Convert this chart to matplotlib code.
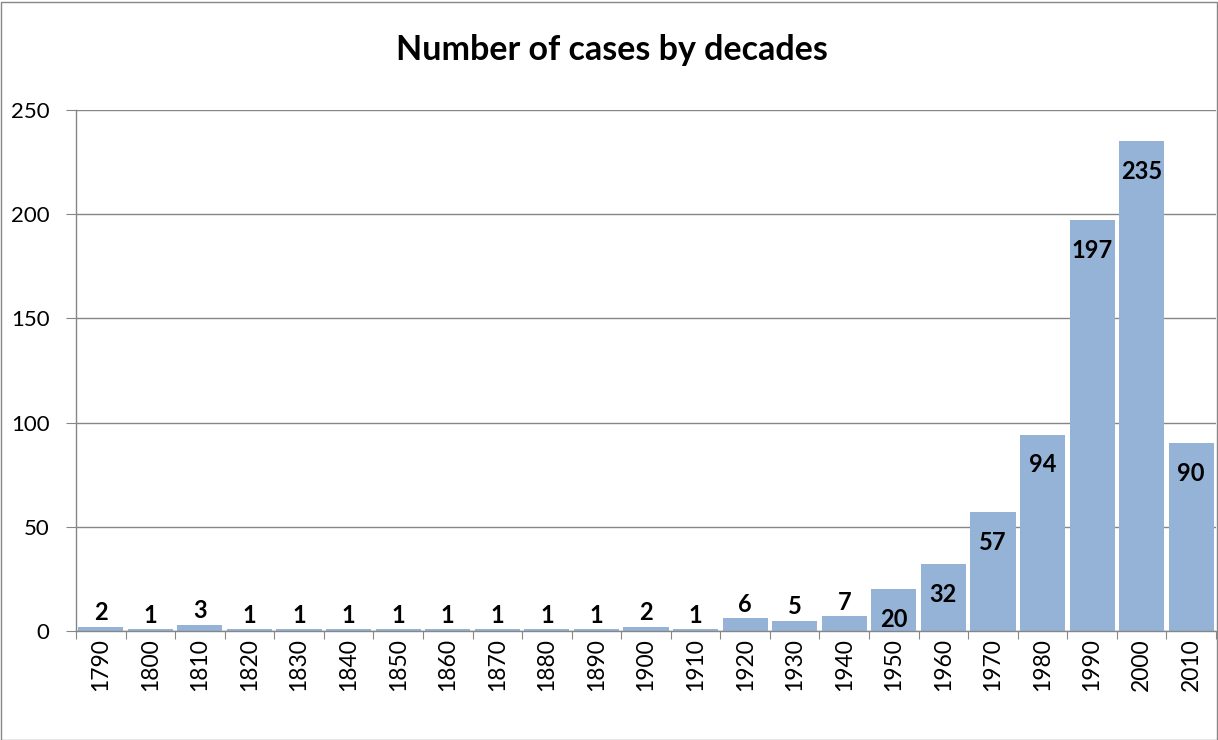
import numpy as np
import matplotlib.pyplot as plt
from matplotlib.patches import Rectangle

# 数据
decades = ['1790', '1800', '1810', '1820', '1830', '1840', '1850', '1860',
           '1870', '1880', '1890', '1900', '1910', '1920', '1930', '1940',
           '1950', '1960', '1970', '1980', '1990', '2000', '2010']
cases = [2, 1, 3, 1, 1, 1, 1, 1, 1, 1, 1, 2, 1, 6, 5, 7, 20, 32, 57, 94, 197, 235, 90]
yticks = [0, 50, 100, 150, 200, 250]

plt.rcParams['font.family'] = ['Lato', 'DejaVu Sans']

fig = plt.figure(figsize=(12.18, 7.4), dpi=100)
ax = fig.add_axes([76 / 1218, 1 - 631 / 740, (1216 - 76) / 1218, (631 - 110) / 740])

x = np.arange(len(decades))
bar_color = '#95B3D7'
grid_color = '#868686'
ax.bar(x, cases, width=0.91, color=bar_color, zorder=2)

ax.set_xlim(-0.5, len(decades) - 0.5)
ax.set_ylim(0, 250)
ax.set_yticks(yticks)
ax.set_yticklabels([str(v) for v in yticks], fontsize=16)
ax.yaxis.grid(True, color=grid_color, linewidth=1, zorder=0)

# 类别标签放在minor刻度，major刻度放在分隔处
ax.set_xticks(np.arange(len(decades) + 1) - 0.5)
ax.set_xticklabels([])
ax.set_xticks(x, minor=True)
ax.set_xticklabels(decades, minor=True, rotation=90, fontsize=16.5)
ax.tick_params(axis='x', which='major', length=6, color=grid_color, direction='out')
ax.tick_params(axis='x', which='minor', length=0, pad=5)
ax.tick_params(axis='y', length=7, color=grid_color, pad=12)

for s in ['top', 'right']:
    ax.spines[s].set_visible(False)
for s in ['left', 'bottom']:
    ax.spines[s].set_color(grid_color)
    ax.spines[s].set_linewidth(1)
ax.spines['bottom'].set_zorder(3)

# 数据标签: 高的柱子放在内部顶端, 矮的放在上方
for xi, v in zip(x, cases):
    if v >= 15:
        ax.annotate(str(v), (xi, v), xytext=(0, -21.5), textcoords='offset points',
                    ha='center', va='center', fontsize=17, fontweight='bold', zorder=4)
    else:
        ax.annotate(str(v), (xi, v), xytext=(0, 10), textcoords='offset points',
                    ha='center', va='center', fontsize=17, fontweight='bold', zorder=4)

fig.text(612 / 1218, 1 - 50 / 740, 'Number of cases by decades', ha='center', va='center',
         fontsize=24.5, fontweight='bold')

# 图表外框
fig.patches.append(Rectangle((0.5 / 1218, 0.5 / 740), 1 - 2 / 1218, 1 - 2 / 740,
                             transform=fig.transFigure, fill=False,
                             edgecolor=grid_color, linewidth=1))

plt.savefig('out.png', dpi=100)
